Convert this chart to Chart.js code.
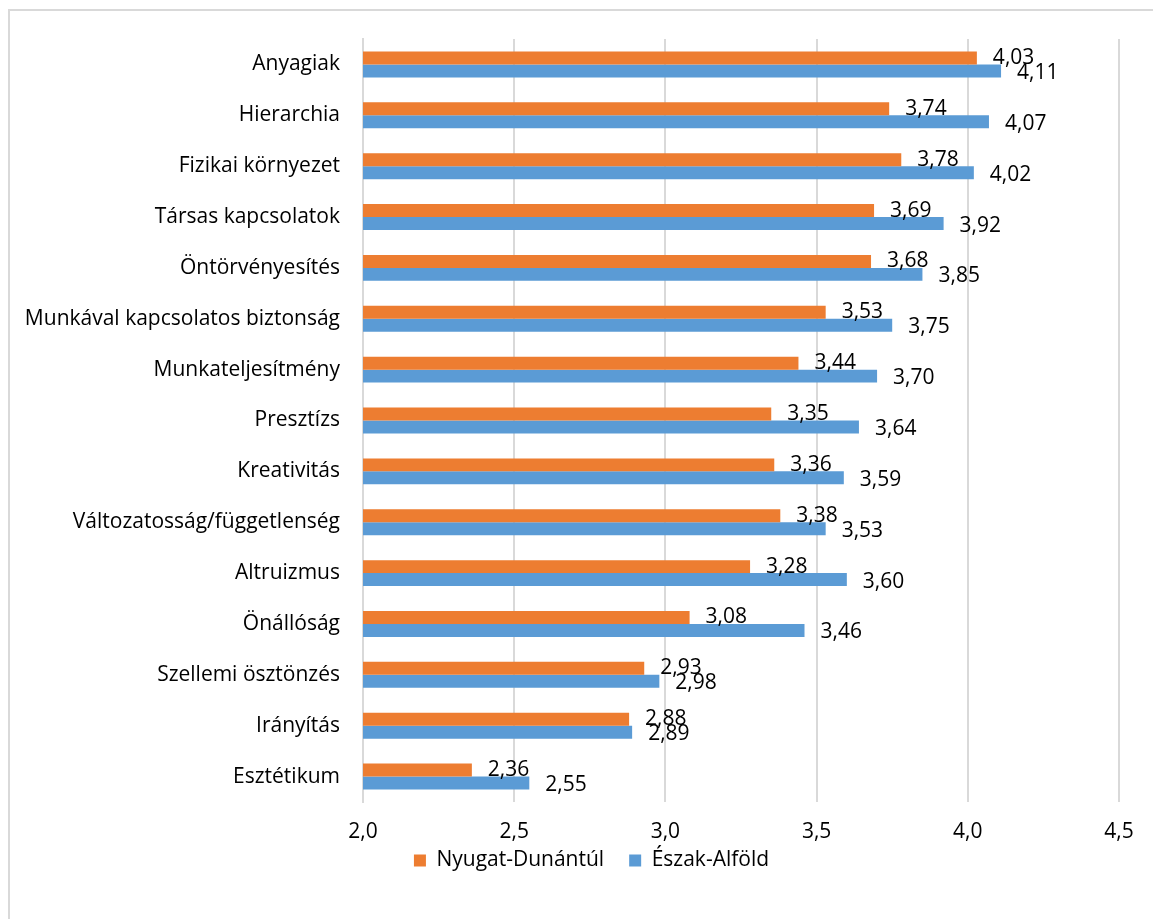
<!DOCTYPE html>
<html>
<head>
<meta charset="utf-8">
<script src="https://cdn.jsdelivr.net/npm/chart.js@4.4.1/dist/chart.umd.min.js"></script>
<style>
html,body{margin:0;padding:0;background:#fff;}
#wrap{width:1153px;height:919px;position:relative;}
</style>
</head>
<body>
<div id="wrap"><canvas id="c" width="1153" height="919"></canvas></div>
<script>
const categories = ["Anyagiak","Hierarchia","Fizikai környezet","Társas kapcsolatok","Öntörvényesítés","Munkával kapcsolatos biztonság","Munkateljesítmény","Presztízs","Kreativitás","Változatosság/függetlenség","Altruizmus","Önállóság","Szellemi ösztönzés","Irányítás","Esztétikum"];
const seriesNames = ["Nyugat-Dunántúl","Észak-Alföld"];
const nyugatDunantul = [4.03,3.74,3.78,3.69,3.68,3.53,3.44,3.35,3.36,3.38,3.28,3.08,2.93,2.88,2.36];
const eszakAlfold = [4.11,4.07,4.02,3.92,3.85,3.75,3.70,3.64,3.59,3.53,3.60,3.46,2.98,2.89,2.55];
const xMin = 2.0, xMax = 4.5, xStep = 0.5;

const FONT = "'Open Sans'";
const fmt = (v, d) => v.toFixed(d).replace('.', ',');
const LEGEND_SHIFT = { x: 32, y: -21 };

const borderPlugin = {
  id: 'outerBorder',
  beforeDraw(chart) {
    const ctx = chart.ctx;
    ctx.save();
    ctx.fillStyle = '#fff';
    ctx.fillRect(0, 0, chart.width, chart.height);
    ctx.strokeStyle = '#d9d9d9';
    ctx.lineWidth = 2;
    ctx.strokeRect(9, 10, chart.width + 20, chart.height + 20);
    ctx.restore();
  }
};

const legendShift = {
  id: 'legendShift',
  afterUpdate(chart) {
    const lg = chart.legend;
    if (!lg) return;
    lg.left += LEGEND_SHIFT.x; lg.right += LEGEND_SHIFT.x;
    lg.top += LEGEND_SHIFT.y; lg.bottom += LEGEND_SHIFT.y;
  }
};

const labelPlugin = {
  id: 'valueLabels',
  afterDatasetsDraw(chart) {
    const ctx = chart.ctx;
    ctx.save();
    ctx.font = "21px " + FONT;
    ctx.fillStyle = '#000';
    ctx.textAlign = 'left';
    ctx.textBaseline = 'middle';
    chart.data.datasets.forEach((ds, di) => {
      const meta = chart.getDatasetMeta(di);
      meta.data.forEach((el, i) => {
        const dy = di === 0 ? 0 : 2;
        ctx.fillText(fmt(ds.data[i], 2), el.x + 16, el.y + dy);
      });
    });
    ctx.restore();
  }
};

new Chart(document.getElementById('c'), {
  type: 'bar',
  data: {
    labels: categories,
    datasets: [
      { label: seriesNames[0], data: nyugatDunantul, backgroundColor: '#ED7D31', categoryPercentage: 0.51, barPercentage: 1.0 },
      { label: seriesNames[1], data: eszakAlfold, backgroundColor: '#5B9BD5', categoryPercentage: 0.51, barPercentage: 1.0 }
    ]
  },
  options: {
    indexAxis: 'y',
    responsive: false,
    animation: false,
    devicePixelRatio: 1,
    layout: { padding: { left: 0, right: 34, top: 39, bottom: 17 } },
    plugins: {
      tooltip: { enabled: false },
      legend: {
        position: 'bottom',
        labels: {
          font: { family: FONT, size: 21 },
          color: '#000',
          boxWidth: 12,
          boxHeight: 12,
          padding: 25
        }
      }
    },
    scales: {
      x: {
        min: xMin, max: xMax,
        ticks: {
          stepSize: xStep,
          callback: (v) => fmt(v, 1),
          font: { family: FONT, size: 21 },
          color: '#000',
          padding: 17
        },
        grid: { color: '#d9d9d9', lineWidth: 2, drawTicks: false },
        border: { display: false },
        afterFit(s) { s.height = 44; }
      },
      y: {
        ticks: {
          font: { family: FONT, size: 21 },
          color: '#000',
          padding: 23,
          autoSkip: false
        },
        grid: { display: false, drawTicks: false },
        border: { display: true, color: '#d9d9d9', width: 2 },
        afterFit(s) { s.width = 363; }
      }
    }
  },
  plugins: [borderPlugin, legendShift, labelPlugin]
});
</script>
</body>
</html>
